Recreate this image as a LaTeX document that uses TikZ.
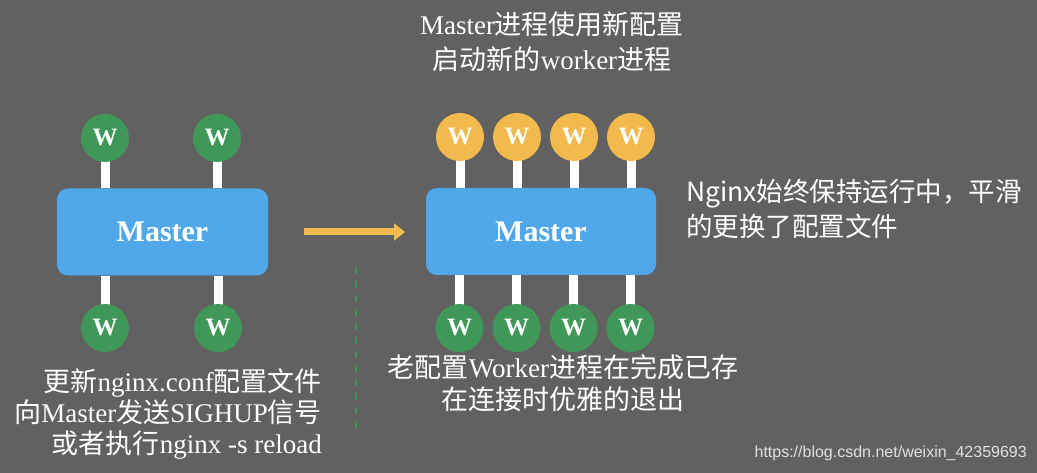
\documentclass[tikz,border=0pt]{standalone}
\usepackage{fontspec}
\usetikzlibrary{arrows.meta}
\setmainfont{Liberation Serif}
\newfontfamily\cjk{Noto Sans CJK SC}
\newfontfamily\wmfont{Liberation Sans}
\newcommand{\zh}[1]{{\cjk #1}}
\definecolor{bgc}{RGB}{97,97,97}
\definecolor{mblue}{RGB}{80,168,235}
\definecolor{wgreen}{RGB}{64,152,88}
\definecolor{wyellow}{RGB}{242,186,76}
\definecolor{dgreen}{RGB}{60,150,90}
\pgfdeclarelayer{bg}
\pgfdeclarelayer{stems}
\pgfsetlayers{bg,stems,main}
\tikzset{
  master/.style={fill=mblue, rounded corners=11pt, minimum width=#1, minimum height=87pt, inner sep=0pt,
    text=white, font=\fontsize{30}{32}\selectfont\bfseries},
  wnode/.style={circle, fill=#1, minimum size=48pt, inner sep=0pt, text=white,
    font=\fontsize{25}{26}\selectfont\bfseries},
  stem/.style={draw=white, line width=9pt},
  txt/.style={text=white, font=\fontsize{27}{35}\selectfont, inner sep=0pt, align=center},
}
\begin{document}
\begin{tikzpicture}[x=1pt,y=-1pt]
\begin{pgfonlayer}{bg}
\fill[bgc] (0,0) rectangle (1037,473);
\end{pgfonlayer}
\useasboundingbox (0,0) rectangle (1037,473);

% left group
\node[master=211pt] (m1) at (162.5,232) {Master};
\node[wnode=wgreen] (lt1) at (105,138) {W};
\node[wnode=wgreen] (lt2) at (217,138) {W};
\node[wnode=wgreen] (lb1) at (105,328) {W};
\node[wnode=wgreen] (lb2) at (218,328) {W};

% right group
\node[master=230pt] (m2) at (541,231.5) {Master};
\foreach \i/\x in {1/460,2/517,3/574,4/631}{
  \node[wnode=wyellow] (rt\i) at (\x,137) {W};
  \node[wnode=wgreen] (rb\i) at (\x-0.5,328) {W};
}

\begin{pgfonlayer}{stems}
\foreach \n in {lt1,lt2}{ \draw[stem] (\n.center) -- (\n.center |- m1.north); }
\foreach \n in {lb1,lb2}{ \draw[stem] (\n.center) -- (\n.center |- m1.south); }
\foreach \i in {1,2,3,4}{
  \draw[stem] (rt\i.center) -- (rt\i.center |- m2.north);
  \draw[stem] (rb\i.center) -- (rb\i.center |- m2.south);
}
\end{pgfonlayer}

% arrow
\coordinate (a0) at (304,232);
\coordinate (a1) at (405,232);
\draw[wyellow, line width=7pt, -{Triangle[length=11pt,width=17pt]}] (a0) -- (a1);

% dashed divider
\coordinate (d0) at (356,267);
\coordinate (d1) at (356,433);
\draw[dgreen, line width=1.6pt, dash pattern=on 7pt off 7pt] (d0) -- (d1);

% texts
\node[txt] (top) at (552,42) {Master\zh{进程使用新配置}\\\zh{启动新的}worker\zh{进程}};
\node[txt, anchor=north east, align=right, font=\fontsize{27}{31}\selectfont] (left) at (322,368)
  {\zh{更新}nginx.conf\zh{配置文件}\\\zh{向}Master\zh{发送}SIGHUP\zh{信号}\\\zh{或者执行}nginx -s reload};
\node[txt, anchor=north west, align=left, font=\cjk\fontsize{26.5}{35}\selectfont] (right) at (686,179)
  {Nginx始终保持运行中，平滑\\的更换了配置文件};
\node[txt, font=\fontsize{27}{32}\selectfont] (mid) at (563,383)
  {\zh{老配置}Worker\zh{进程在完成已存}\\\zh{在连接时优雅的退出}};
\node[text=white!80!bgc, font=\wmfont\fontsize{16}{18}\selectfont, anchor=east, inner sep=0pt] (wm) at (1027,453)
  {https://blog.csdn.net/weixin\_42359693};
\end{tikzpicture}
\end{document}
